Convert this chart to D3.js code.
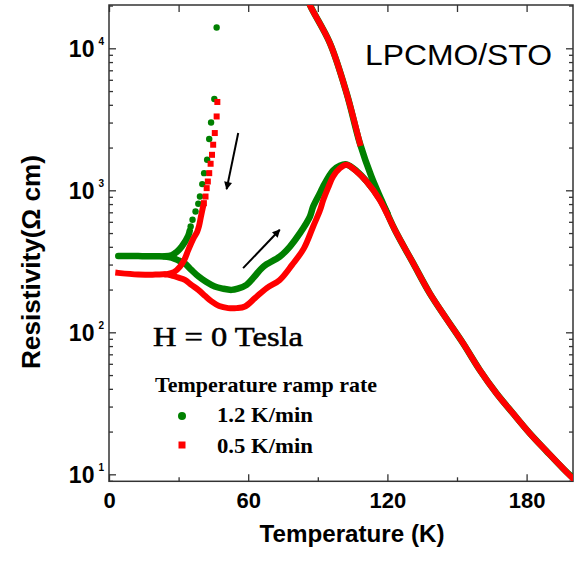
<!DOCTYPE html>
<html lang="en">
<head>
    <meta charset="UTF-8">
    <title>LPCMO/STO resistivity</title>
    <script src="https://cdn.jsdelivr.net/npm/d3@7"></script>
    <style>
        body { margin: 0; background: #fff; }
        .axis line { stroke: #333; stroke-width: 1.3px; }
        .axis path { display: none; }
        .axis text { font-family: "Liberation Sans", Arial, sans-serif; font-weight: bold; font-size: 22px; fill: #000; }
    </style>
</head>
<body>
    <script>
        // x tick labels / y decades
        var xMajor = [0, 60, 120, 180];
        var xMinor = [30, 90, 150];
        var yMajor = [10, 100, 1000, 10000];
        var yExp = ["1", "2", "3", "4"];

        // 1.2 K/min (green) - warming branch, T (K) vs rho (Ohm cm)
        var greenWarm = [[4, 345], [12.6, 344], [20, 343], [24.1, 342], [27, 336], [30, 320], [32.7, 305],
            [35.5, 275], [38.5, 248], [42, 226], [45.6, 210], [49, 203], [52.8, 199], [55.5, 203], [59.3, 216],
            [62.5, 245], [66.5, 290], [73.6, 341], [78, 402], [82.3, 499], [86.6, 653], [88, 769], [90.9, 955],
            [92.3, 1064], [96.6, 1380], [99.5, 1490], [102.4, 1520], [106.7, 1370], [111, 1160], [116.7, 870], [120, 690]];
        // 1.2 K/min - cooling, high T part
        var greenCool = [[199.5, 9.6], [195.7, 11.0], [188.5, 14.6], [181.3, 19.5], [174.1, 26.9], [167, 37.2],
            [159.8, 54.3], [152.6, 83.8], [145.4, 125], [138.2, 189], [131.1, 307], [123.2, 527], [117.5, 850],
            [113.1, 1250], [108.1, 2153], [102.4, 4840], [95.2, 10900], [86.6, 20200], [85, 24000]];
        // 1.2 K/min - cooling, low T part (separate points, then dense)
        var greenCoolDots = [[46.4, 14000], [45.4, 4395], [44, 3006], [43.2, 2296], [42.3, 1642], [41.0, 1321],
            [40.2, 1106], [39.2, 904], [38.5, 804], [37.3, 709], [36.0, 620], [35.2, 556]];
        var greenCoolLow = [[34.8, 520], [34.2, 480], [31.3, 400], [29.2, 368], [27, 348], [24, 343]];

        // 0.5 K/min (red)
        var redWarm = [[4, 262], [12.6, 255], [20, 255], [24.1, 256], [27, 251], [30, 243], [32.7, 234],
            [35.5, 216], [38.5, 199], [41.5, 180], [44.2, 165], [47.5, 153], [51.4, 148], [55, 148], [58.6, 152],
            [62.9, 174], [68, 205], [73.6, 234], [79, 300], [84, 390], [88, 556], [90.9, 720], [92.3, 850],
            [94.5, 1050], [96.6, 1250], [99.5, 1430], [102.4, 1514], [106.7, 1356], [111, 1153], [116.7, 857],
            [123.2, 527], [131.1, 307], [138.2, 189], [145.4, 125], [152.6, 83.8], [159.8, 54.3], [167, 37.2],
            [174.1, 26.9], [181.3, 19.5], [188.5, 14.6], [195.7, 11.0], [199.5, 9.5]];
        var redCool = [[108.1, 2153], [102.4, 4840], [95.2, 10900], [86.6, 20200], [85, 24000]];
        var redCoolDots = [[46.7, 4188], [46.4, 3311], [45.6, 2531], [44.9, 2094], [44.4, 1778], [43.8, 1538],
            [43.2, 1321], [42.6, 1153], [42.1, 1036], [41.6, 904], [40.9, 812]];
        var redCoolLow = [[40.5, 760], [39.6, 650], [38.8, 560], [38, 510], [36.3, 455], [34.2, 381], [32.5, 325],
            [30.6, 290], [28, 265], [25, 257]];

        // direction arrows (data coords)
        var arrows = [
            {from: [55.7, 2530], to: [50.7, 1019]},
            {from: [57.8, 283], to: [73.6, 527]}
        ];

        var W = 579, H = 563;
        var pL = 109, pR = 573, pT = 5, pB = 481.3;

        var x = d3.scaleLinear().domain([0, 200]).range([pL, pR]);
        var y = d3.scaleLog().domain([8.93, 20180]).range([pB, pT]);

        var svg = d3.select("body").append("svg")
            .attr("width", W).attr("height", H);

        var defs = svg.append("defs");
        defs.append("clipPath").attr("id", "plot")
            .append("rect").attr("x", pL).attr("y", pT)
            .attr("width", pR - pL).attr("height", pB - pT);

        defs.append("marker")
            .attr("id", "head")
            .attr("viewBox", "0 0 10 10")
            .attr("refX", 9).attr("refY", 5)
            .attr("markerWidth", 5).attr("markerHeight", 4)
            .attr("orient", "auto")
            .append("path").attr("d", "M0,0 L10,5 L0,10 z").attr("fill", "#000");

        // minor decades for the log axis
        var yMinor = [];
        [1, 10, 100, 1000, 10000].forEach(function(d) {
            for (var k = 2; k <= 9; k++) {
                var v = d * k;
                if (v > 8.93 && v < 20180) yMinor.push(v);
            }
        });

        // axes, ticks pointing inward
        svg.append("g").attr("class", "axis")
            .attr("transform", "translate(0," + pB + ")")
            .call(d3.axisBottom(x).tickValues(xMajor).tickSize(-7).tickSizeOuter(0).tickPadding(11));
        svg.append("g").attr("class", "axis")
            .attr("transform", "translate(0," + pB + ")")
            .call(d3.axisBottom(x).tickValues(xMinor).tickSize(-4).tickFormat(""));
        svg.append("g").attr("class", "axis")
            .attr("transform", "translate(0," + pT + ")")
            .call(d3.axisTop(x).tickValues(xMajor.concat(xMinor)).tickSize(-7).tickFormat(""));

        svg.append("g").attr("class", "axis")
            .attr("transform", "translate(" + pL + ",0)")
            .call(d3.axisLeft(y).tickValues(yMajor).tickSize(-7).tickFormat(""));
        svg.append("g").attr("class", "axis")
            .attr("transform", "translate(" + pL + ",0)")
            .call(d3.axisLeft(y).tickValues(yMinor).tickSize(-4).tickFormat(""));
        svg.append("g").attr("class", "axis")
            .attr("transform", "translate(" + pR + ",0)")
            .call(d3.axisRight(y).tickValues(yMajor).tickSize(-7).tickFormat(""));
        svg.append("g").attr("class", "axis")
            .attr("transform", "translate(" + pR + ",0)")
            .call(d3.axisRight(y).tickValues(yMinor).tickSize(-4).tickFormat(""));

        // y tick labels with superscript
        var ylab = svg.selectAll(".ylab")
            .data(yMajor)
            .enter()
            .append("text")
            .attr("class", "ylab")
            .attr("x", 104)
            .attr("y", function(d) { return y(d) + 8.4; })
            .attr("text-anchor", "end")
            .style("font-family", "'Liberation Sans', Arial, sans-serif")
            .style("font-weight", "bold")
            .style("font-size", "23px");
        ylab.append("tspan").text("10");
        ylab.append("tspan")
            .attr("dx", 4).attr("dy", -11.5)
            .style("font-size", "10px")
            .text(function(d, i) { return yExp[i]; });

        // frame
        svg.append("rect")
            .attr("x", pL).attr("y", pT)
            .attr("width", pR - pL).attr("height", pB - pT)
            .attr("fill", "none").attr("stroke", "#333").attr("stroke-width", 1.5);

        // data
        var line = d3.line()
            .x(function(d) { return x(d[0]); })
            .y(function(d) { return y(d[1]); })
            .curve(d3.curveCatmullRom);

        var plot = svg.append("g").attr("clip-path", "url(#plot)");

        [greenCool, greenWarm, greenCoolLow].forEach(function(s) {
            plot.append("path").attr("d", line(s))
                .attr("fill", "none").attr("stroke", "#008000")
                .attr("stroke-width", 6.5).attr("stroke-linecap", "round");
        });
        plot.selectAll(".gdot")
            .data(greenCoolDots)
            .enter()
            .append("circle")
            .attr("class", "gdot")
            .attr("cx", function(d) { return x(d[0]); })
            .attr("cy", function(d) { return y(d[1]); })
            .attr("r", 3.2)
            .attr("fill", "#008000");

        [redWarm, redCool, redCoolLow].forEach(function(s) {
            plot.append("path").attr("d", line(s))
                .attr("fill", "none").attr("stroke", "#ff0000")
                .attr("stroke-width", 6).attr("stroke-linecap", "square");
        });
        plot.selectAll(".rdot")
            .data(redCoolDots)
            .enter()
            .append("rect")
            .attr("class", "rdot")
            .attr("x", function(d) { return x(d[0]) - 3; })
            .attr("y", function(d) { return y(d[1]) - 3; })
            .attr("width", 6).attr("height", 6)
            .attr("fill", "#ff0000");

        // arrows
        svg.selectAll(".arrow")
            .data(arrows)
            .enter()
            .append("line")
            .attr("class", "arrow")
            .attr("x1", function(d) { return x(d.from[0]); })
            .attr("y1", function(d) { return y(d.from[1]); })
            .attr("x2", function(d) { return x(d.to[0]); })
            .attr("y2", function(d) { return y(d.to[1]); })
            .attr("stroke", "#000").attr("stroke-width", 2)
            .attr("marker-end", "url(#head)");

        // texts
        svg.append("text")
            .attr("x", 365).attr("y", 65)
            .attr("textLength", 187).attr("lengthAdjust", "spacingAndGlyphs")
            .style("font-family", "'Liberation Sans', Arial, sans-serif")
            .style("font-size", "30px")
            .text("LPCMO/STO");

        svg.append("text")
            .attr("x", 153).attr("y", 346)
            .attr("textLength", 150).attr("lengthAdjust", "spacingAndGlyphs")
            .attr("stroke", "#000").attr("stroke-width", 0.5)
            .style("font-family", "'Liberation Serif', 'Times New Roman', serif")
            .style("font-size", "27px")
            .text("H = 0 Tesla");

        svg.append("text")
            .attr("x", 155).attr("y", 392)
            .attr("textLength", 222).attr("lengthAdjust", "spacingAndGlyphs")
            .style("font-family", "'Liberation Serif', 'Times New Roman', serif")
            .style("font-weight", "bold")
            .style("font-size", "22px")
            .text("Temperature ramp rate");

        var legend = [
            {label: "1.2 K/min", color: "#008000", shape: "circle", cy: 416, ty: 421.7},
            {label: "0.5 K/min", color: "#ff0000", shape: "square", cy: 445, ty: 453}
        ];
        legend.forEach(function(d) {
            if (d.shape == "circle") {
                svg.append("circle").attr("cx", 182).attr("cy", d.cy).attr("r", 4).attr("fill", d.color);
            } else {
                svg.append("rect").attr("x", 178.5).attr("y", d.cy - 3.5)
                    .attr("width", 7).attr("height", 7).attr("fill", d.color);
            }
            svg.append("text")
                .attr("x", 217).attr("y", d.ty)
                .attr("textLength", 96).attr("lengthAdjust", "spacingAndGlyphs")
                .style("font-family", "'Liberation Serif', 'Times New Roman', serif")
                .style("font-weight", "bold")
                .style("font-size", "22px")
                .text(d.label);
        });

        svg.append("text")
            .attr("x", 352).attr("y", 542)
            .attr("text-anchor", "middle")
            .attr("textLength", 185).attr("lengthAdjust", "spacingAndGlyphs")
            .style("font-family", "'Liberation Sans', Arial, sans-serif")
            .style("font-weight", "bold")
            .style("font-size", "23px")
            .text("Temperature (K)");

        svg.append("text")
            .attr("transform", "translate(40,262) rotate(-90)")
            .attr("text-anchor", "middle")
            .attr("textLength", 214).attr("lengthAdjust", "spacingAndGlyphs")
            .style("font-family", "'Liberation Sans', Arial, sans-serif")
            .style("font-weight", "bold")
            .style("font-size", "26px")
            .text("Resistivity(Ω cm)");
    </script>
</body>
</html>
